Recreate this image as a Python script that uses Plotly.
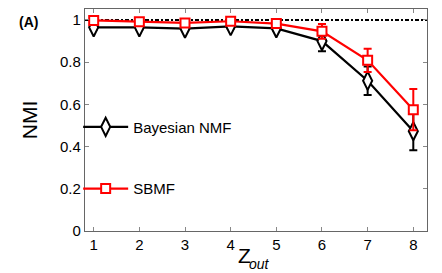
import plotly.graph_objects as go

z_out = [1, 2, 3, 4, 5, 6, 7, 8]
bnmf_nmi = [0.965, 0.965, 0.959, 0.970, 0.960, 0.900, 0.712, 0.473]
bnmf_err = [0.010, 0.010, 0.010, 0.010, 0.010, 0.048, 0.068, 0.090]
sbmf_nmi = [0.998, 0.992, 0.986, 0.994, 0.983, 0.946, 0.809, 0.575]
sbmf_err = [0.005, 0.005, 0.008, 0.006, 0.008, 0.035, 0.055, 0.098]
y_ticks = [0, 0.2, 0.4, 0.6, 0.8, 1]
y_tick_text = ["0", "0.2", "0.4", "0.6", "0.8", "1"]

FONT = "Liberation Sans Narrow, Liberation Sans, Arial, sans-serif"

fig = go.Figure()
fig.add_trace(go.Scatter(
    x=z_out, y=bnmf_nmi, name="Bayesian NMF", mode="lines+markers",
    line=dict(color="black", width=2.2),
    marker=dict(symbol="diamond-tall", size=13, color="white",
                line=dict(color="black", width=2)),
    error_y=dict(type="data", array=bnmf_err, color="black", thickness=2, width=4),
    legend="legend", showlegend=True,
))
fig.add_trace(go.Scatter(
    x=z_out, y=sbmf_nmi, name="SBMF", mode="lines+markers",
    line=dict(color="red", width=2.2),
    marker=dict(symbol="square", size=9, color="white",
                line=dict(color="red", width=2)),
    error_y=dict(type="data", array=sbmf_err, color="red", thickness=2, width=4),
    legend="legend2", showlegend=True,
))

fig.add_shape(type="line", xref="paper", yref="y", x0=0, x1=1, y0=1, y1=1,
              line=dict(color="black", width=2, dash="4px,2px,2px,2px"), layer="below")

axis_common = dict(showline=True, linecolor="#666", linewidth=1.2, mirror="ticks",
                   ticks="inside", ticklen=4, tickcolor="#888", showgrid=False,
                   zeroline=False, tickfont=dict(family=FONT, size=15, color="black"))

fig.update_layout(
    width=442, height=273,
    margin=dict(l=77, r=23, t=1, b=50),
    paper_bgcolor="white", plot_bgcolor="white",
    font=dict(family=FONT, color="black"),
    showlegend=True,
    xaxis=dict(range=[0.81, 8.30], tickvals=z_out, ticktext=[str(v) for v in z_out],
               **axis_common),
    yaxis=dict(range=[0, 1.052], tickvals=y_ticks, ticktext=y_tick_text,
               title=dict(text="NMI", font=dict(family="Liberation Sans, Arial", size=21),
                          standoff=16),
               **axis_common),
    legend=dict(x=-0.02, y=0.468, xanchor="left", yanchor="middle", itemwidth=45,
                bgcolor="rgba(0,0,0,0)", font=dict(family=FONT, size=15)),
    legend2=dict(x=-0.02, y=0.19, xanchor="left", yanchor="middle", itemwidth=45,
                 bgcolor="rgba(0,0,0,0)", font=dict(family=FONT, size=15)),
    annotations=[
        dict(text="<b>(A)</b>", xref="paper", yref="paper", x=-0.165, y=0.985,
             showarrow=False, font=dict(family=FONT, size=14),
             xanchor="center", yanchor="top"),
        dict(text="Z", xref="paper", yref="paper", x=0.465, y=-0.052,
             showarrow=False, font=dict(family=FONT, size=21),
             xanchor="center", yanchor="top", borderpad=0),
        dict(text="<i>out</i>", xref="paper", yref="paper", x=0.478, y=-0.108,
             showarrow=False, font=dict(family=FONT, size=14),
             xanchor="left", yanchor="top", borderpad=0),
    ],
)

fig.write_html("out.html")
